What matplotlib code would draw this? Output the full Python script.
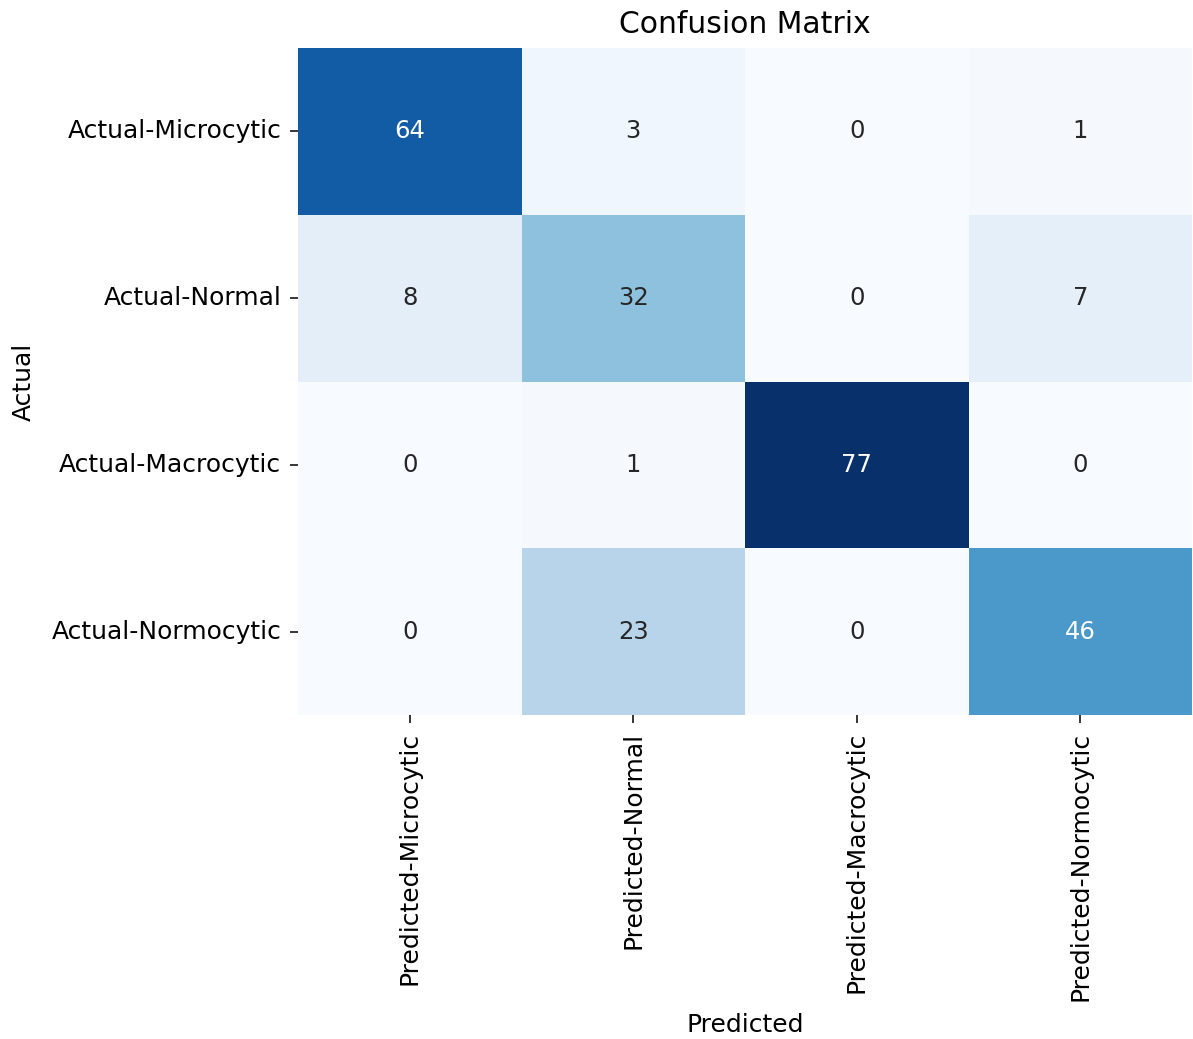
import numpy as np
import matplotlib
matplotlib.use("Agg")
import matplotlib.pyplot as plt
import seaborn as sns

row_labels = ["Actual-Microcytic", "Actual-Normal", "Actual-Macrocytic", "Actual-Normocytic"]
col_labels = ["Predicted-Microcytic", "Predicted-Normal", "Predicted-Macrocytic", "Predicted-Normocytic"]
counts = np.array([
    [64, 3, 0, 1],
    [8, 32, 0, 7],
    [0, 1, 77, 0],
    [0, 23, 0, 46],
])

plt.rcParams['font.family'] = ['DejaVu Sans']
fig = plt.figure(figsize=(11.93, 10.39), dpi=100)
ax = fig.add_axes([0.2498, 0.3118, 0.7494, 0.642])
sns.heatmap(counts, annot=True, fmt="d", cmap="Blues", cbar=False,
            xticklabels=col_labels, yticklabels=row_labels, ax=ax,
            annot_kws={"fontsize": 17.5})
ax.set_title("Confusion Matrix", fontsize=21.5, pad=11)
ax.set_xlabel("Predicted", fontsize=18, labelpad=9)
ax.set_ylabel("Actual", fontsize=18, labelpad=11)
ax.tick_params(axis="both", labelsize=18, length=5.5, width=1.1, pad=6.5)
plt.setp(ax.get_xticklabels(), rotation=90)
plt.setp(ax.get_yticklabels(), rotation=0)
fig.savefig("out.png", dpi=100)
